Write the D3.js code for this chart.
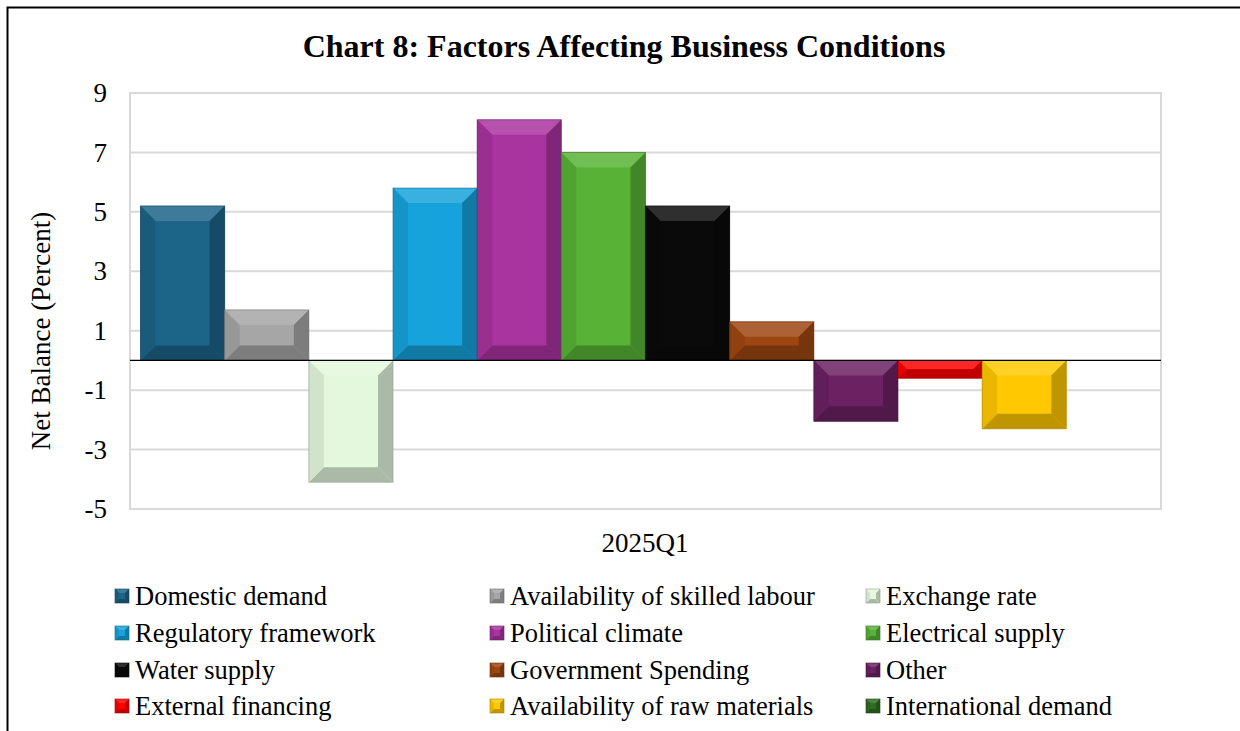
<!DOCTYPE html>
<html>
<head>
<meta charset="utf-8">
<script src="https://cdn.jsdelivr.net/npm/d3@7"></script>
<style>
	body { margin: 0; background: #fff; }
	svg { display: block; font-family: "Liberation Serif", "Times New Roman", serif; }
</style>
</head>
<body>
<div class="container"></div>
<script>
var categories = ['Domestic demand', 'Availability of skilled labour', 'Exchange rate',
	'Regulatory framework', 'Political climate', 'Electrical supply',
	'Water supply', 'Government Spending', 'Other',
	'External financing', 'Availability of raw materials', 'International demand'];
var values = [5.2, 1.7, -4.1, 5.8, 8.1, 7.0, 5.2, 1.3, -2.05, -0.6, -2.3, 0];
var colors = ['#1c6488', '#a6a6a6', '#e4f8dd', '#16a2da', '#a9339f', '#57b236',
	'#0a0a0a', '#9e4612', '#6b2162', '#ff0000', '#ffc800', '#2f6d20'];
var yTicks = [-5, -3, -1, 1, 3, 5, 7, 9];
var period = '2025Q1';

var width = 1240, height = 731;
var plot = { left: 130, right: 1161, top: 93, bottom: 509 };

var svg = d3.select('.container')
	.append('svg')
	.attr('width', width)
	.attr('height', height);

// outer frame (right / bottom edges run off the page)
svg.append('rect')
	.attr('x', 7.5).attr('y', 7.5)
	.attr('width', width + 20).attr('height', height + 20)
	.attr('fill', 'none')
	.attr('stroke', '#000')
	.attr('stroke-width', 2);

svg.append('text')
	.attr('x', 624).attr('y', 57)
	.attr('text-anchor', 'middle')
	.attr('font-size', 32)
	.attr('font-weight', 'bold')
	.text('Chart 8: Factors Affecting Business Conditions');

var y = d3.scaleLinear().domain([-5, 9]).range([plot.bottom, plot.top]);
var x = d3.scaleBand().domain(categories)
	.range([plot.left + 10.5, plot.right - 10.5])
	.paddingInner(0);

// gridlines
svg.append('g')
	.selectAll('line')
	.data(yTicks)
	.enter()
	.append('line')
	.attr('x1', plot.left).attr('x2', plot.right)
	.attr('y1', function(d) { return y(d); })
	.attr('y2', function(d) { return y(d); })
	.attr('stroke', '#d9d9d9')
	.attr('stroke-width', 2);

svg.append('rect')
	.attr('x', plot.left).attr('y', plot.top)
	.attr('width', plot.right - plot.left).attr('height', plot.bottom - plot.top)
	.attr('fill', 'none')
	.attr('stroke', '#d9d9d9')
	.attr('stroke-width', 2);

// y axis labels
var yAxis = d3.axisLeft(y).tickValues(yTicks).tickSize(0).tickPadding(23)
	.tickFormat(function(d) { return String(d); });
var yg = svg.append('g')
	.attr('transform', 'translate(' + plot.left + ',0)')
	.call(yAxis);
yg.select('.domain').remove();
yg.selectAll('text')
	.attr('font-family', '"Liberation Serif", serif')
	.attr('font-size', 27)
	.attr('fill', '#000');

svg.append('text')
	.attr('transform', 'translate(50,' + ((plot.top + plot.bottom) / 2 + 30) + ') rotate(-90)')
	.attr('text-anchor', 'middle')
	.attr('font-size', 27)
	.text('Net Balance (Percent)');

svg.append('text')
	.attr('x', 645).attr('y', 552)
	.attr('text-anchor', 'middle')
	.attr('font-size', 27)
	.text(period);

// bevelled bars
function bevel(g, x0, y0, x1, y1, col, size) {
	var b = Math.min(size, (y1 - y0) / 2, (x1 - x0) / 2);
	var c = d3.color(col);
	var light = d3.interpolateRgb(col, '#ffffff')(0.15);
	var dark = c.darker(0.8).formatHex();
	var mid = c.darker(0.25).formatHex();
	function poly(pts, fill) {
		g.append('polygon')
			.attr('points', pts.map(function(p) { return p.join(','); }).join(' '))
			.attr('fill', fill);
	}
	g.append('rect')
		.attr('x', x0).attr('y', y0)
		.attr('width', x1 - x0).attr('height', y1 - y0)
		.attr('fill', col);
	poly([[x0, y0], [x1, y0], [x1 - b, y0 + b], [x0 + b, y0 + b]], light);
	poly([[x0, y1], [x1, y1], [x1 - b, y1 - b], [x0 + b, y1 - b]], dark);
	poly([[x0, y0], [x0 + b, y0 + b], [x0 + b, y1 - b], [x0, y1]], mid);
	poly([[x1, y0], [x1 - b, y0 + b], [x1 - b, y1 - b], [x1, y1]], dark);
	g.append('rect')
		.attr('x', x0).attr('y', y0)
		.attr('width', x1 - x0).attr('height', y1 - y0)
		.attr('fill', 'none')
		.attr('stroke', c.darker(1.2).formatHex())
		.attr('stroke-opacity', 0.6)
		.attr('stroke-width', 1);
}

var bars = svg.append('g');
categories.forEach(function(cat, i) {
	var v = values[i];
	if (v === 0) return;
	var g = bars.append('g');
	bevel(g, x(cat), Math.min(y(v), y(0)), x(cat) + x.bandwidth(), Math.max(y(v), y(0)), colors[i], 15);
});

svg.append('line')
	.attr('x1', plot.left).attr('x2', plot.right)
	.attr('y1', y(0)).attr('y2', y(0))
	.attr('stroke', '#000')
	.attr('stroke-width', 1.2);

// legend
var legendCols = [115, 490, 866];
var legendRows = [596, 633, 670, 706];
categories.forEach(function(cat, i) {
	var lx = legendCols[i % 3], ly = legendRows[Math.floor(i / 3)];
	var g = svg.append('g');
	bevel(g, lx, ly - 7, lx + 14, ly + 7, colors[i], 4);
	g.append('text')
		.attr('x', lx + 20).attr('y', ly + 9)
		.attr('font-size', 26.5)
		.text(cat);
});
</script>
</body>
</html>
